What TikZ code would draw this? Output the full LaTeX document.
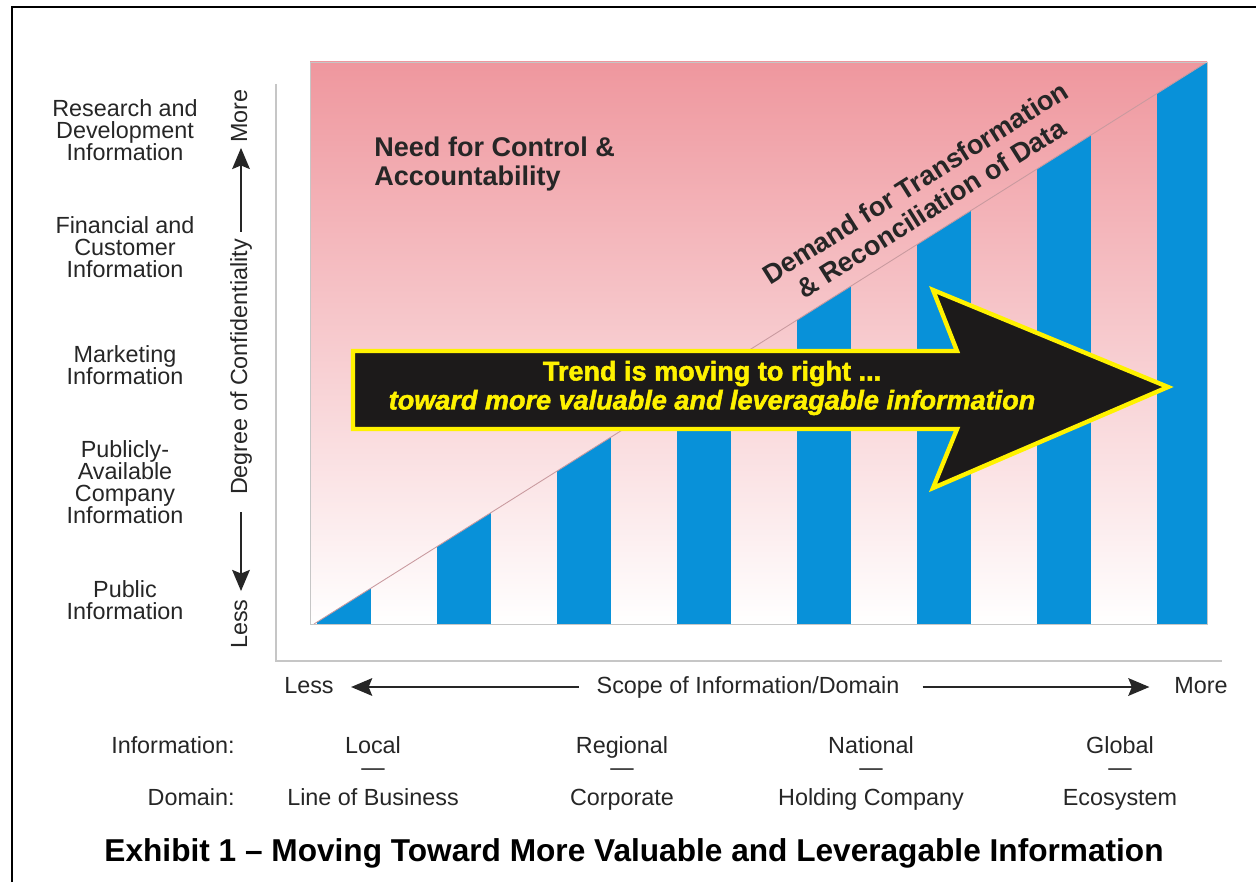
\documentclass[tikz,border=0pt]{standalone}
\usepackage{fontspec}
\setmainfont{Liberation Sans}
\newfontfamily\trendfont{Liberation Sans}[BoldFeatures={FakeBold=1.8},
  BoldItalicFeatures={FakeBold=1.8}]
\usepackage{tikz}
\usetikzlibrary{arrows.meta, calc, positioning}
\definecolor{chartblue}{HTML}{0891D9}
\definecolor{pinktop}{HTML}{EF979E}
\definecolor{pinkline}{HTML}{C99A9F}
\definecolor{axisgray}{HTML}{C6C6C6}
\definecolor{trendfill}{HTML}{1C1A1A}
\definecolor{trendrim}{HTML}{FFF200}
\definecolor{labelink}{HTML}{262626}
\tikzset{
  lbl/.style        = {font=\fontsize{13.3}{12.5}\selectfont, text=labelink,
                       align=center, inner sep=0pt},
  rowlbl/.style     = {lbl, text height=9.5pt, text depth=2.5pt},
  vlbl/.style       = {rowlbl, rotate=90},
  headlbl/.style    = {font=\bfseries\fontsize{15.4}{17}\selectfont,
                       text=labelink, align=left, inner sep=0pt},
  axline/.style     = {draw=axisgray, line width=0.9pt},
  axarrow/.style    = {-{Stealth[length=12pt, width=10pt, inset=2pt]},
                       line width=1.4pt, draw=labelink},
  bar/.style        = {fill=chartblue},
  trendarrow/.style = {fill=trendfill, draw=trendrim, line width=2.5pt,
                       line join=miter},
  trendtext/.style  = {font=\trendfont\bfseries\fontsize{15.4}{16.5}\selectfont,
                       text=trendrim, align=center, inner sep=0pt},
  exhibit/.style    = {font=\bfseries\fontsize{18}{20}\selectfont, inner sep=0pt},
}

\begin{document}
\begin{tikzpicture}[x=0.02cm, y=-0.02cm]
  \useasboundingbox (0,0) rectangle (1256,882);
  \draw[line width=1.5pt] (12,882) -- (12,7) -- (1256,7);

  \coordinate (plotSW) at (310,624);
  \coordinate (plotNE) at (1207,62);
  \coordinate (plotSE) at (1207,624);
  \coordinate (diagS)  at (314,624);
  \shade[top color=pinktop, bottom color=white] (plotSW) rectangle (plotNE);
  \begin{scope}
    \clip (diagS) -- (plotNE) -- (plotSE) -- cycle;
    \foreach \i in {0,...,7}
      {\fill[bar] (317+120*\i,624) rectangle ++(54,-600);}
  \end{scope}
  \draw[pinkline, line width=0.5pt] (diagS) -- (plotNE);
  \draw[axisgray, line width=0.5pt] (plotSW) rectangle (plotNE);

  \coordinate (yTop)   at (276,84);
  \coordinate (origin) at (276,661);
  \coordinate (xEnd)   at (1222,661);
  \draw[axline] (yTop) -- (origin) -- (xEnd);

  \node[headlbl, anchor=west] (needCtl) at (374,164)
    {Need for Control \&\\Accountability};
  \node[headlbl, align=center, rotate=32.2, anchor=south, inner sep=7.5pt] (demand)
    at ($(diagS)!0.705!(plotNE)$)
    {Demand for Transformation\\\& Reconciliation of Data};

  \draw[trendarrow] (353,351) -- (957,351) -- (933,290) -- (1168,387)
    -- (933,488) -- (957,429) -- (353,429) -- cycle;
  \node[trendtext] (trend) at (712,388)
    {Trend is moving to right ...\\\itshape toward more valuable and leveragable information};

  \foreach \y/\txt [count=\k] in {130/{Research and\\Development\\Information},
      247/{Financial and\\Customer\\Information}, 365/{Marketing\\Information},
      482/{Publicly-\\Available\\Company\\Information}, 600/{Public\\Information}}
    {\node[lbl] (level\k) at (125,\y) {\txt};}

  \node[vlbl] (confMore) at (241,116) {More};
  \node[vlbl] (confDeg)  at (241,367) {Degree of Confidentiality};
  \node[vlbl] (confLess) at (241,624) {Less};
  \draw[axarrow, shorten <=4pt, shorten >=2.8pt] (confDeg.east) -- (confMore.west);
  \draw[axarrow, shorten <=9.7pt, shorten >=4.5pt] (confDeg.west) -- (confLess.east);

  \node[rowlbl] (scopeLess) at (309,687) {Less};
  \node[rowlbl] (scope)     at (748,687) {Scope of Information/Domain};
  \node[rowlbl] (scopeMore) at (1201,687) {More};
  \draw[axarrow, shorten <=10pt, shorten >=9.7pt] (scope.west) -- (scopeLess.east);
  \draw[axarrow, shorten <=13pt, shorten >=14pt] (scope.east) -- (scopeMore.west);

  \node[rowlbl, anchor=east] (infoHead) at (235,747) {Information:};
  \node[rowlbl, anchor=east] (domHead)  at (235,799) {Domain:};
  \foreach \x/\info/\dom [count=\k] in {373/Local/Line of Business,
      622/Regional/Corporate, 871/National/Holding Company, 1120/Global/Ecosystem}
  {
    \node[rowlbl] (info\k) at (\x,747) {\info};
    \node[lbl]    (dash\k) at (\x,772) {\textemdash};
    \node[rowlbl] (dom\k)  at (\x,799) {\dom};
  }

  \node[exhibit] (caption) at (634,853)
    {Exhibit 1 \textendash\ Moving Toward More Valuable and Leveragable Information};
\end{tikzpicture}
\end{document}
